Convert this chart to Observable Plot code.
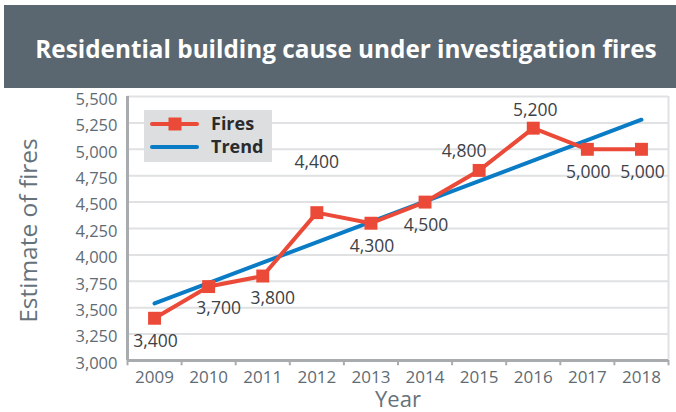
<!DOCTYPE html>
<html>
<head>
<meta charset="utf-8">
<script src="https://cdn.jsdelivr.net/npm/d3@7"></script>
<script src="https://cdn.jsdelivr.net/npm/@observablehq/plot@0.6"></script>
<style>
  html, body { margin: 0; padding: 0; background: #fff; }
  #wrap { position: relative; width: 676px; height: 412px; overflow: hidden; font-family: "Open Sans", sans-serif; }
  #banner { position: absolute; left: 4px; top: 5px; width: 672px; height: 83px; background: #5b6770;
            color: #fff; font-weight: 700; font-size: 24.3px; display: flex; align-items: center; justify-content: center;
            box-sizing: border-box; padding-top: 3px; padding-left: 12px; }
  #chart { position: absolute; left: 0; top: 88px; }
  #legend { position: absolute; left: 144px; top: 110px; width: 128px; height: 52px; background: #dcdee0; }
  .lg-item { position: absolute; left: 0; font-weight: 700; font-size: 18px; color: #2b2b2b; }
  .lg-item span { position: absolute; left: 67px; top: -13px; white-space: nowrap; }
</style>
</head>
<body>
<div id="wrap">
  <div id="banner">Residential building cause under investigation fires</div>
  <div id="chart"></div>
  <div id="legend">
    <svg width="128" height="52" style="position:absolute;left:0;top:0">
      <line x1="8" x2="53" y1="14" y2="14" stroke="#ea4a37" stroke-width="4" stroke-linecap="round"/>
      <rect x="24.5" y="7.5" width="13" height="13" fill="#ea4a37"/>
      <line x1="8" x2="53" y1="37" y2="37" stroke="#0a7cc5" stroke-width="4" stroke-linecap="round"/>
    </svg>
    <div class="lg-item" style="top:14px"><span>Fires</span></div>
    <div class="lg-item" style="top:37px"><span>Trend</span></div>
  </div>
</div>
<script>
// ---- data ----
const years = [2009, 2010, 2011, 2012, 2013, 2014, 2015, 2016, 2017, 2018];
const fires = [3400, 3700, 3800, 4400, 4300, 4500, 4800, 5200, 5000, 5000];
const trendYears = [2009, 2018];
const trendValues = [3540, 5280];
const yTicks = [3000, 3250, 3500, 3750, 4000, 4250, 4500, 4750, 5000, 5250, 5500];

// ---- build ----
const rows = years.map((year, i) => ({year, value: fires[i], i}));
const trend = trendYears.map((year, i) => ({year, value: trendValues[i]}));
const boundaries = years.map(y => y - 0.5).concat([years[years.length - 1] + 0.5]);
const fmt = d3.format(",");

// label placement groups (pixel offsets)
const groups = [
  {idx: [0, 4, 5, 8, 9], dx: 1, dy: 23},
  {idx: [1, 2], dx: 10, dy: 22},
  {idx: [3], dx: 0, dy: -50},
  {idx: [6], dx: -15, dy: -19},
  {idx: [7], dx: 2, dy: -18}
];

const axisGray = "#a9acaf";
const gridGray = "#dfe1e3";
const tickText = "#5f6b73";

const chart = Plot.plot({
  width: 676,
  height: 324,
  marginTop: 8,
  marginBottom: 52,
  marginLeft: 127,
  marginRight: 8,
  style: {fontFamily: "Open Sans, sans-serif", background: "transparent", overflow: "visible"},
  x: {domain: [boundaries[0], boundaries[boundaries.length - 1]], axis: null},
  y: {domain: [3000, 5500], axis: null},
  marks: [
    Plot.ruleY(yTicks.slice(1), {stroke: gridGray, strokeWidth: 2}),
    Plot.ruleX([boundaries[boundaries.length - 1]], {stroke: gridGray, strokeWidth: 2}),
    Plot.ruleX(boundaries, {y1: 3000, y2: 2950, stroke: axisGray, strokeWidth: 2}),
    Plot.ruleX([boundaries[0]], {stroke: axisGray, strokeWidth: 3}),
    Plot.ruleY([3000], {stroke: axisGray, strokeWidth: 3}),
    Plot.text(yTicks, {x: boundaries[0], y: d => d, text: d => fmt(d), textAnchor: "end", dx: -10, dy: 3, fontSize: 16.5, fill: tickText}),
    Plot.text(years, {x: d => d, y: 3000, text: d => String(d), dy: 17, fontSize: 17, fill: tickText}),
    Plot.text(["Estimate of fires"], {frameAnchor: "left", textAnchor: "middle", dx: -98, dy: 2, rotate: -90, fontSize: 24.5, fill: "#66727a"}),
    Plot.text(["Year"], {frameAnchor: "bottom", lineAnchor: "middle", dy: 39, fontSize: 22, fill: "#66727a"}),
    Plot.line(trend, {x: "year", y: "value", stroke: "#0a7cc5", strokeWidth: 4, strokeLinecap: "round"}),
    Plot.line(rows, {x: "year", y: "value", stroke: "#ea4a37", strokeWidth: 4}),
    Plot.dot(rows, {x: "year", y: "value", symbol: "square", r: 7.3, fill: "#ea4a37", stroke: "none"}),
    ...groups.map(g => Plot.text(rows.filter(d => g.idx.includes(d.i)), {
      x: "year", y: "value", text: d => fmt(d.value), dx: g.dx, dy: g.dy, fontSize: 17.5, fill: "#3d4247"
    }))
  ]
});
document.getElementById("chart").appendChild(chart);
</script>
</body>
</html>
